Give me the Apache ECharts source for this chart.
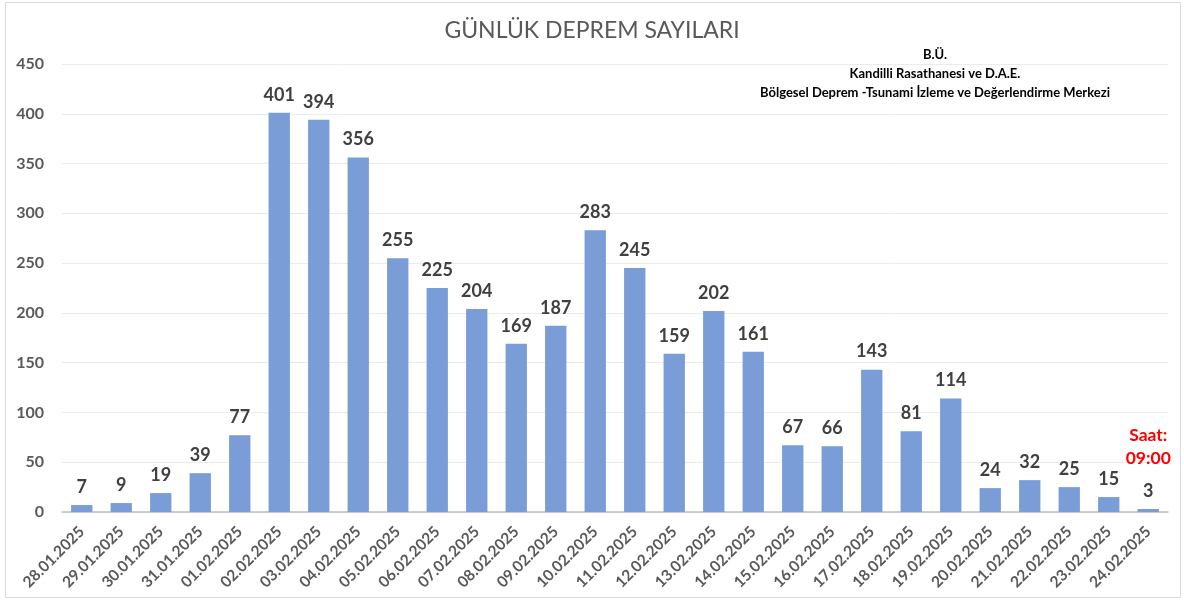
<!DOCTYPE html>
<html>
<head>
<meta charset="utf-8">
<script src="https://cdn.jsdelivr.net/npm/echarts@6/dist/echarts.min.js"></script>
<style>
  html, body { margin: 0; padding: 0; background: #fff; }
  #main { width: 1184px; height: 603px; }
</style>
</head>
<body>
<div id="main"></div>
<script>
// günlük deprem sayıları
var dates = ['28.01.2025', '29.01.2025', '30.01.2025', '31.01.2025', '01.02.2025', '02.02.2025', '03.02.2025',
  '04.02.2025', '05.02.2025', '06.02.2025', '07.02.2025', '08.02.2025', '09.02.2025', '10.02.2025',
  '11.02.2025', '12.02.2025', '13.02.2025', '14.02.2025', '15.02.2025', '16.02.2025', '17.02.2025',
  '18.02.2025', '19.02.2025', '20.02.2025', '21.02.2025', '22.02.2025', '23.02.2025', '24.02.2025'];
var counts = [7, 9, 19, 39, 77, 401, 394, 356, 255, 225, 204, 169, 187, 283,
  245, 159, 202, 161, 67, 66, 143, 81, 114, 24, 32, 25, 15, 3];
var sourceLines = ['B.Ü.', 'Kandilli Rasathanesi ve D.A.E.', 'Bölgesel Deprem -Tsunami İzleme ve Değerlendirme Merkezi'];
var noteLines = ['Saat:', '09:00'];

var myChart = echarts.init(document.getElementById('main'));
var font = 'Lato, "Open Sans", sans-serif';

var option = {
  animation: false,
  backgroundColor: '#fff',
  textStyle: { fontFamily: font },
  title: {
    text: 'GÜNLÜK DEPREM SAYILARI',
    left: 'center',
    top: 14,
    textStyle: { fontFamily: font, fontWeight: 'normal', color: '#595959', fontSize: 23 }
  },
  graphic: [
    {
      type: 'rect',
      shape: { x: 5.5, y: 2.5, width: 1175, height: 595 },
      style: { fill: 'none', stroke: '#d9d9d9', lineWidth: 1 },
      silent: true
    },
    {
      type: 'text',
      x: 935,
      y: 45,
      style: {
        text: sourceLines.join('\n'),
        align: 'center',
        verticalAlign: 'top',
        font: 'bold 13px ' + font,
        lineHeight: 19,
        fill: '#000'
      }
    }
  ],
  grid: { left: 62, right: 16, top: 64, bottom: 91 },
  xAxis: {
    type: 'category',
    data: dates,
    axisLine: { lineStyle: { color: '#bfbfbf', width: 1.5 } },
    axisTick: { show: false },
    axisLabel: {
      rotate: 45,
      interval: 0,
      color: '#595959',
      fontSize: 15.5,
      fontWeight: 'bold',
      margin: 17
    }
  },
  yAxis: {
    type: 'value',
    min: 0,
    max: 450,
    interval: 50,
    axisLine: { show: false },
    axisTick: { show: false },
    splitLine: { lineStyle: { color: '#ebebeb' } },
    axisLabel: { color: '#595959', fontSize: 16, fontWeight: 'bold', margin: 18 }
  },
  series: [
    {
      name: 'Deprem',
      type: 'bar',
      data: counts,
      barCategoryGap: '46%',
      itemStyle: { color: '#7a9dd8' },
      label: {
        show: true,
        position: 'top',
        distance: 9,
        color: '#404040',
        fontSize: 18,
        fontWeight: 'bold'
      },
      markPoint: {
        symbol: 'rect',
        symbolSize: 1,
        itemStyle: { color: 'rgba(0,0,0,0)' },
        label: {
          show: true,
          formatter: noteLines.join('\n'),
          color: '#ff0000',
          fontSize: 17.5,
          fontWeight: 'bold',
          lineHeight: 23
        },
        data: [{ coord: [dates[dates.length - 1], 65] }]
      }
    }
  ]
};
myChart.setOption(option);
</script>
</body>
</html>
